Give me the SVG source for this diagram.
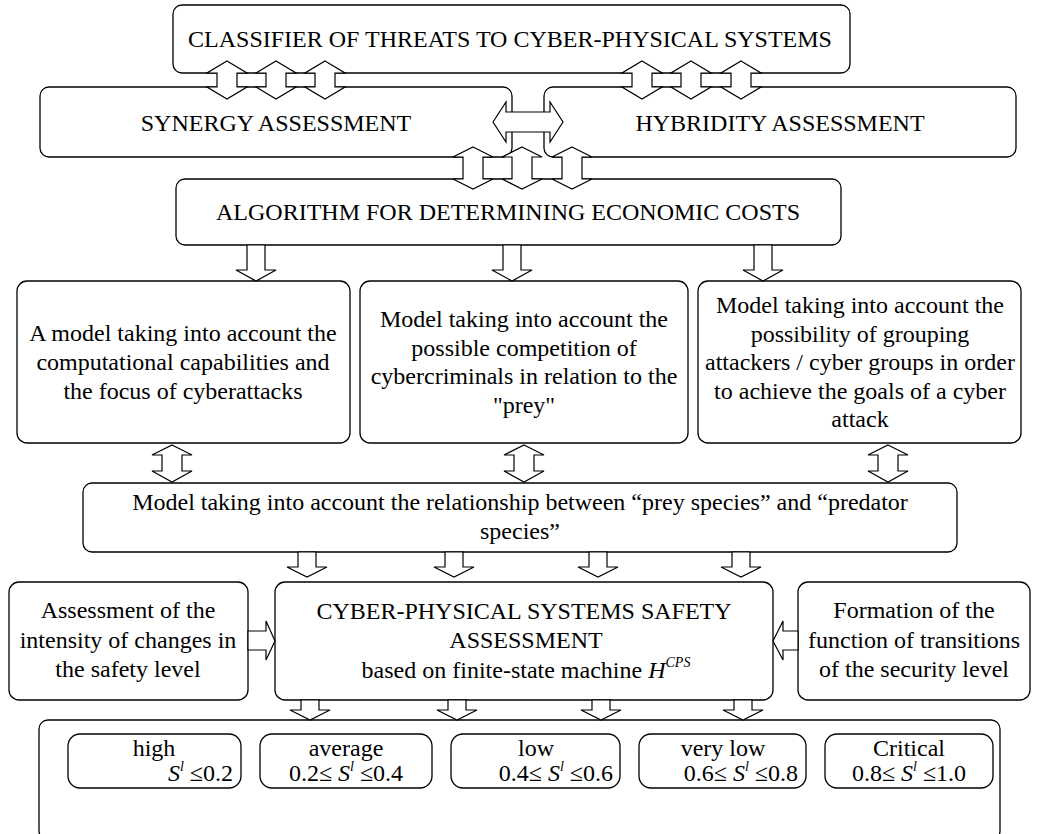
<svg xmlns="http://www.w3.org/2000/svg" width="1038" height="834" viewBox="0 0 1038 834">
<style>
.box{fill:#fff;stroke:#000;stroke-width:1.3}
.arr{fill:#fff;stroke:#000;stroke-width:1.2;stroke-linejoin:miter}
text{font-family:"Liberation Serif","Times New Roman",serif;font-size:24px;fill:#000;text-anchor:middle}
.e{text-anchor:end}
.i{font-style:italic}
</style>
<rect width="1038" height="834" fill="#fff"/>
<g id="classifier"><rect class="box" x="173" y="5" width="677" height="68" rx="9"/><text x="510" y="47">CLASSIFIER OF THREATS TO CYBER-PHYSICAL SYSTEMS</text></g>
<g id="synergy"><rect class="box" x="40" y="87" width="472" height="70" rx="9"/><text x="276" y="131">SYNERGY ASSESSMENT</text></g>
<g id="hybridity"><rect class="box" x="544" y="87" width="472" height="70" rx="9"/><text x="780" y="131">HYBRIDITY ASSESSMENT</text></g>
<g id="algorithm"><rect class="box" x="176" y="179" width="665" height="66" rx="9"/><text x="508" y="220">ALGORITHM FOR DETERMINING ECONOMIC COSTS</text></g>
<g id="model1"><rect class="box" x="17" y="281" width="333" height="162" rx="10"/>
<text x="183" y="341">A model taking into account the</text><text x="183" y="370">computational capabilities and</text><text x="183" y="399">the focus of cyberattacks</text></g>
<g id="model2"><rect class="box" x="360" y="281" width="328" height="162" rx="10"/>
<text x="524" y="327">Model taking into account the</text><text x="524" y="355.5">possible competition of</text><text x="524" y="384">cybercriminals in relation to the</text><text x="524" y="412.5">"prey"</text></g>
<g id="model3"><rect class="box" x="698" y="281" width="323" height="162" rx="10"/>
<text x="860" y="313">Model taking into account the</text><text x="860" y="341.5">possibility of grouping</text><text x="860" y="370">attackers / cyber groups in order</text><text x="860" y="398.5">to achieve the goals of a cyber</text><text x="860" y="427">attack</text></g>
<g id="relationship"><rect class="box" x="83" y="483" width="874" height="69" rx="9"/>
<text x="520" y="510">Model taking into account the relationship between “prey species” and “predator</text><text x="520" y="539">species”</text></g>
<g id="intensity"><rect class="box" x="9" y="582" width="239" height="118" rx="10"/>
<text x="128" y="618">Assessment of the</text><text x="128" y="647.5">intensity of changes in</text><text x="128" y="677">the safety level</text></g>
<g id="cps"><rect class="box" x="275" y="582" width="498" height="118" rx="10"/>
<text x="524" y="619">CYBER-PHYSICAL SYSTEMS SAFETY</text><text x="526" y="648">ASSESSMENT</text>
<text x="526" y="678">based on finite-state machine <tspan class="i">H</tspan><tspan class="i" font-size="14" dy="-11">CPS</tspan></text></g>
<g id="transitions"><rect class="box" x="798" y="582" width="232" height="118" rx="10"/>
<text x="914" y="618">Formation of the</text><text x="914" y="647.5">function of transitions</text><text x="914" y="677">of the security level</text></g>
<g id="levels"><rect class="box" x="39" y="720" width="961" height="120" rx="9"/></g>
<g id="high"><rect class="box" x="68" y="734" width="173" height="54" rx="12"/>
<text x="154" y="756">high</text><text class="e" x="233" y="781"><tspan class="i">S</tspan><tspan class="i" font-size="14" dy="-10">l</tspan><tspan dy="10"> ≤0.2</tspan></text></g>
<g id="average"><rect class="box" x="260" y="734" width="172" height="54" rx="12"/>
<text x="346" y="756">average</text><text x="346" y="781">0.2≤ <tspan class="i">S</tspan><tspan class="i" font-size="14" dy="-10">l</tspan><tspan dy="10"> ≤0.4</tspan></text></g>
<g id="low"><rect class="box" x="451" y="734" width="169" height="54" rx="12"/>
<text x="536" y="756">low</text><text class="e" x="613" y="781">0.4≤ <tspan class="i">S</tspan><tspan class="i" font-size="14" dy="-10">l</tspan><tspan dy="10"> ≤0.6</tspan></text></g>
<g id="verylow"><rect class="box" x="639" y="734" width="167" height="54" rx="12"/>
<text x="723" y="756">very low</text><text class="e" x="798" y="781">0.6≤ <tspan class="i">S</tspan><tspan class="i" font-size="14" dy="-10">l</tspan><tspan dy="10"> ≤0.8</tspan></text></g>
<g id="critical"><rect class="box" x="825" y="734" width="168" height="54" rx="12"/>
<text x="909" y="756">Critical</text><text x="909" y="781">0.8≤ <tspan class="i">S</tspan><tspan class="i" font-size="14" dy="-10">l</tspan><tspan dy="10"> ≤1.0</tspan></text></g>
<g id="connectors">
<polygon class="arr" points="227,61 247,73 237,73 237,87 247,87 227,99 207,87 217,87 217,73 207,73"/>
<polygon class="arr" points="276,61 296,73 286,73 286,87 296,87 276,99 256,87 266,87 266,73 256,73"/>
<polygon class="arr" points="325,61 345,73 335,73 335,87 345,87 325,99 305,87 315,87 315,73 305,73"/>
<polygon class="arr" points="642,61 662,73 652,73 652,87 662,87 642,99 622,87 632,87 632,73 622,73"/>
<polygon class="arr" points="691,61 711,73 701,73 701,87 711,87 691,99 671,87 681,87 681,73 671,73"/>
<polygon class="arr" points="741,61 761,73 751,73 751,87 761,87 741,99 721,87 731,87 731,73 721,73"/>
<polygon class="arr" points="493,122 506,102 506,112 550,112 550,102 563,122 550,142 550,132 506,132 506,142"/>
<polygon class="arr" points="473,147 493,157 483,157 483,179 493,179 473,189 453,179 463,179 463,157 453,157"/>
<polygon class="arr" points="522,147 542,157 532,157 532,179 542,179 522,189 502,179 512,179 512,157 502,157"/>
<polygon class="arr" points="572,147 592,157 582,157 582,179 592,179 572,189 552,179 562,179 562,157 552,157"/>
<polygon class="arr" points="247,245 265,245 265,270 276,270 256,281 236,270 247,270"/>
<polygon class="arr" points="503,245 521,245 521,270 532,270 512,281 492,270 503,270"/>
<polygon class="arr" points="754,245 772,245 772,270 783,270 763,281 743,270 754,270"/>
<polygon class="arr" points="172,445 192,455 182,455 182,471 192,471 172,482 152,471 162,471 162,455 152,455"/>
<polygon class="arr" points="524,445 544,455 534,455 534,471 544,471 524,482 504,471 514,471 514,455 504,455"/>
<polygon class="arr" points="888,445 908,455 898,455 898,471 908,471 888,482 868,471 878,471 878,455 868,455"/>
<polygon class="arr" points="298,552 316,552 316,567 327,567 307,577 287,567 298,567"/>
<polygon class="arr" points="445,552 463,552 463,567 474,567 454,577 434,567 445,567"/>
<polygon class="arr" points="589,552 607,552 607,567 618,567 598,577 578,567 589,567"/>
<polygon class="arr" points="732,552 750,552 750,567 761,567 741,577 721,567 732,567"/>
<polygon class="arr" points="248,631 266,631 266,621 275,641 266,660 266,650 248,650"/>
<polygon class="arr" points="798,631 783,631 783,621 773,641 783,660 783,650 798,650"/>
<polygon class="arr" points="301,700 319,700 319,710 330,710 310,720 290,710 301,710"/>
<polygon class="arr" points="448,700 466,700 466,710 477,710 457,720 437,710 448,710"/>
<polygon class="arr" points="592,700 610,700 610,710 621,710 601,720 581,710 592,710"/>
<polygon class="arr" points="734,700 752,700 752,710 763,710 743,720 723,710 734,710"/>
</g>
</svg>
